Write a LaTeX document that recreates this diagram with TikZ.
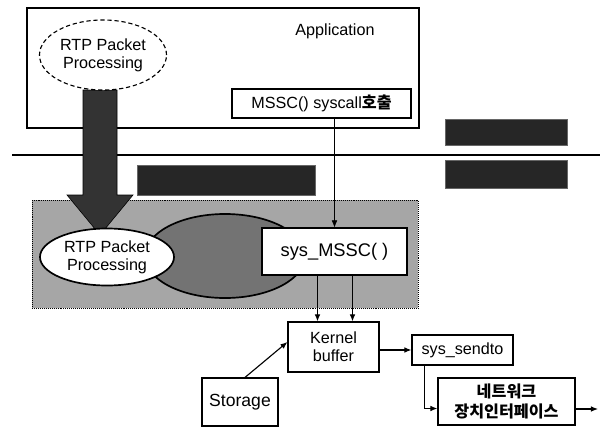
\documentclass[tikz,border=0pt]{standalone}
\usepackage{fontspec}
\setmainfont{Liberation Sans}
\newfontfamily\kr{Noto Sans CJK KR}
\usetikzlibrary{arrows.meta,shapes.geometric,calc}

\begin{document}
\begin{tikzpicture}[x=0.025cm, y=-0.025cm, >={Latex[length=5pt,width=4pt]},
    font=\fontsize{11.5}{13}\selectfont,
    box/.style={draw, thick, fill=white, align=center, inner sep=0pt},
    darkbox/.style={fill=black!85, draw=black!60, inner sep=0pt},
    oval/.style={ellipse, draw, very thick, fill=white, align=center, inner sep=0pt}]

    \useasboundingbox (0,0) rectangle (600,429);

    % --- espacio de usuario ---
    \node[box, fill=none, minimum width=9.8cm, minimum height=3cm] (app) at (223,68) {};
    \node (apptxt) at (335,31) {Application};
    \node[box, minimum width=4.475cm, minimum height=0.725cm] (mssc) at (321.5,103.5)
        {MSSC() syscall{\kr\bfseries 호출}};

    % --- limite usuario / kernel ---
    \coordinate (lnw) at (12,155);
    \coordinate (lne) at (600,155);
    \draw[thick] (lnw) -- (lne);

    % --- bloques oscuros ---
    \node[darkbox, minimum width=4.45cm, minimum height=0.75cm] (hid1) at (226,180) {};
    \node[darkbox, minimum width=3.05cm, minimum height=0.65cm] (hid2) at (506,132) {};
    \node[darkbox, minimum width=3.05cm, minimum height=0.7cm] (hid3) at (506,174) {};

    % --- zona kernel ---
    \node[draw, densely dotted, fill=black!35, minimum width=9.65cm, minimum height=2.7cm] (kern) at (225,254) {};

    % --- flecha gruesa ---
    \draw[fill=black!80] (83,90) -- (117,90) -- (117,195) -- (133,195) -- (100,235)
        -- (67,195) -- (83,195) -- cycle;

    \node[oval, thick, densely dashed, minimum width=3.175cm, minimum height=1.75cm] (rtpu) at (103,55)
        {RTP Packet\\Processing};

    \node[oval, fill=black!55, minimum width=4cm, minimum height=2.1cm] (loop) at (225,256) {};
    \node[oval, minimum width=3.35cm, minimum height=1.425cm] (rtpk) at (107,257)
        {RTP Packet\\Processing};
    \node[box, minimum width=3.625cm, minimum height=1.175cm, font=\fontsize{13}{15}\selectfont] (sysmssc) at (334.5,251.5)
        {sys\_MSSC( )};

    % --- bloques inferiores ---
    \node[box, minimum width=2.275cm, minimum height=1.25cm] (kbuf) at (333.5,347) {Kernel\\buffer};
    \node[box, minimum width=1.9cm, minimum height=1.2cm, font=\fontsize{12.5}{14}\selectfont] (storage) at (240,402) {Storage};
    \node[box, minimum width=2.525cm, minimum height=0.75cm] (sendto) at (462.5,350) {sys\_sendto};
    \node[box, minimum width=3.425cm, minimum height=1.175cm, font=\kr\bfseries\fontsize{11.5}{14}\selectfont] (nic) at (506.5,401.5)
        {네트워크\\장치인터페이스};
    \coordinate (out) at (598,409);

    % --- conexiones ---
    \draw[->, thin] (sysmssc.north |- mssc.south) -- (sysmssc.north);
    \draw[->, thick] ($(sysmssc.south)+(-17,0)$) -- ($(kbuf.north)+(-16,0)$);
    \draw[->, thick] ($(sysmssc.south)+(18,0)$) -- ($(kbuf.north)+(19,0)$);
    \draw[->, thick] ($(storage.north)+(5,0)$) -- ($(kbuf.west)+(0,-5)$);
    \draw[->, thick] (kbuf.east |- sendto.west) -- (sendto.west);
    \draw[->, thick] ($(sendto.south west)+(13,0)$) |- ($(nic.west)+(0,7)$);
    \draw[->, thick] (nic.east |- out) -- (out);

\end{tikzpicture}
\end{document}
